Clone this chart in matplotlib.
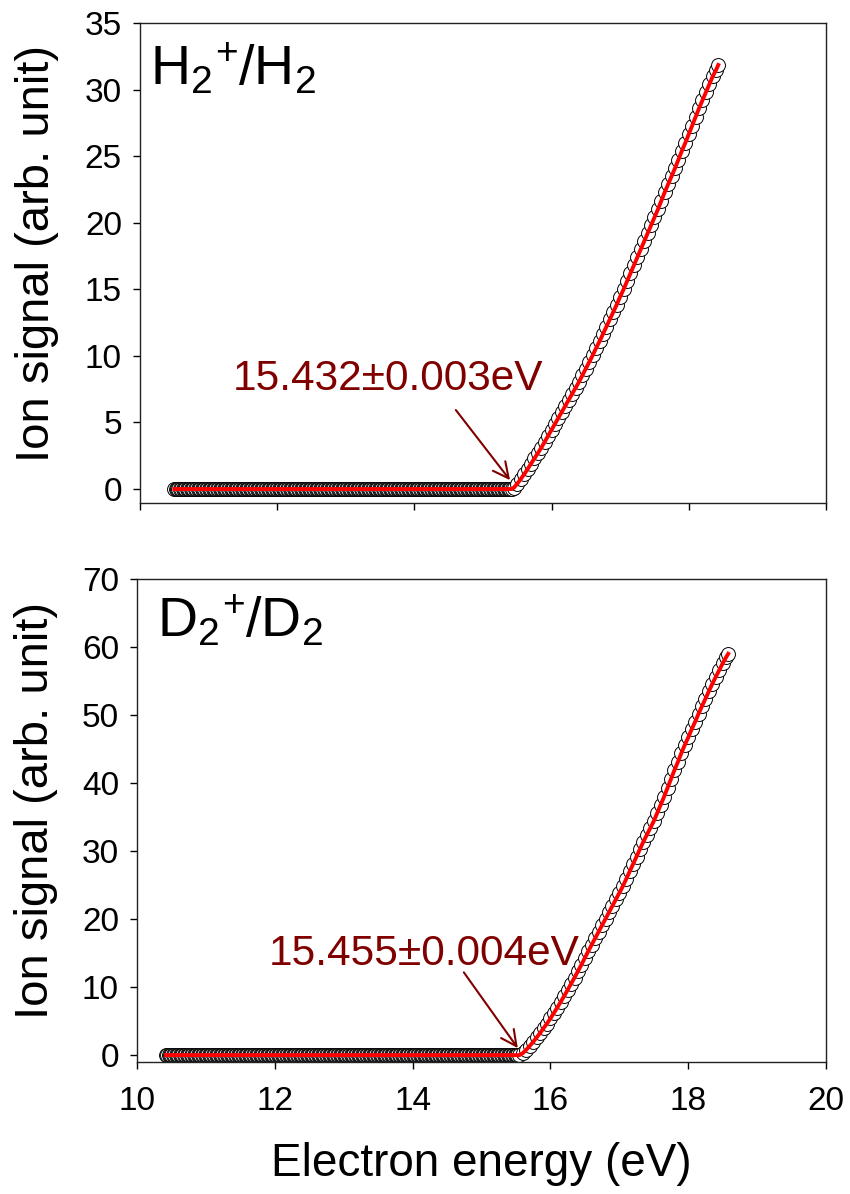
import numpy as np
import matplotlib
matplotlib.use("Agg")
import matplotlib.pyplot as plt

plt.rcParams['font.family'] = ['Liberation Sans', 'DejaVu Sans']
plt.rcParams['mathtext.fontset'] = 'custom'
plt.rcParams['mathtext.rm'] = 'Liberation Sans'

# H2 scan: flat baseline below threshold, then the rising part
h2_flat_start, h2_flat_stop, h2_step = 10.50, 15.44, 0.02
h2_rise_e = [15.45, 15.50, 15.55, 15.60, 15.65, 15.70, 15.75, 15.80, 15.85, 15.90,
             15.95, 16.00, 16.05, 16.10, 16.15, 16.20, 16.25, 16.30, 16.35, 16.40,
             16.45, 16.50, 16.55, 16.60, 16.65, 16.70, 16.75, 16.80, 16.85, 16.90,
             16.95, 17.00, 17.05, 17.10, 17.15, 17.20, 17.25, 17.30, 17.35, 17.40,
             17.45, 17.50, 17.55, 17.60, 17.65, 17.70, 17.75, 17.80, 17.85, 17.90,
             17.95, 18.00, 18.05, 18.10, 18.15, 18.20, 18.25, 18.30, 18.35, 18.40,
             18.43]
h2_rise_s = [0.1, 0.4, 0.75, 1.1, 1.5, 1.9, 2.3, 2.7, 3.1, 3.55,
             4.0, 4.45, 4.9, 5.35, 5.8, 6.25, 6.7, 7.15, 7.6, 8.05,
             8.55, 9.05, 9.55, 10.05, 10.6, 11.1, 11.65, 12.2, 12.75, 13.3,
             13.85, 14.45, 15.0, 15.6, 16.2, 16.8, 17.4, 18.0, 18.6, 19.2,
             19.8, 20.4, 21.0, 21.65, 22.3, 22.9, 23.5, 24.1, 24.75, 25.4,
             26.0, 26.65, 27.3, 27.95, 28.6, 29.2, 29.8, 30.4, 31.0, 31.5,
             31.85]

# D2 scan
d2_flat_start, d2_flat_stop, d2_step = 10.42, 15.54, 0.02
d2_rise_e = [15.55, 15.60, 15.65, 15.70, 15.75, 15.80, 15.85, 15.90, 15.95, 16.00,
             16.05, 16.10, 16.15, 16.20, 16.25, 16.30, 16.35, 16.40, 16.45, 16.50,
             16.55, 16.60, 16.65, 16.70, 16.75, 16.80, 16.85, 16.90, 16.95, 17.00,
             17.05, 17.10, 17.15, 17.20, 17.25, 17.30, 17.35, 17.40, 17.45, 17.50,
             17.55, 17.60, 17.65, 17.70, 17.75, 17.80, 17.85, 17.90, 17.95, 18.00,
             18.05, 18.10, 18.15, 18.20, 18.25, 18.30, 18.35, 18.40, 18.45, 18.50,
             18.55, 18.58]
d2_rise_s = [0.0, 0.3, 0.8, 1.35, 1.95, 2.6, 3.25, 3.95, 4.65, 5.4,
             6.2, 7.0, 7.85, 8.7, 9.6, 10.5, 11.4, 12.35, 13.3, 14.3,
             15.3, 16.25, 17.2, 18.15, 19.1, 20.05, 21.0, 21.95, 22.9, 23.85,
             24.8, 25.9, 27.0, 28.1, 29.2, 30.3, 31.4, 32.4, 33.4, 34.4,
             35.6, 36.8, 38.0, 39.3, 40.6, 41.9, 43.1, 44.4, 45.6, 46.7,
             47.9, 49.0, 50.2, 51.3, 52.4, 53.5, 54.6, 55.6, 56.6, 57.6,
             58.5, 59.0]

h2_label = r'$\mathregular{H_2{}^{\!+}\!/H_2}$'
d2_label = r'$\mathregular{D_2{}^{\!+}\!/D_2}$'
h2_text = '15.432\u00b10.003eV'
d2_text = '15.455\u00b10.004eV'

dark_red = '#800000'


def build(flat_start, flat_stop, step, rise_e, rise_s):
    e_flat = np.arange(flat_start, flat_stop, step)
    e = np.concatenate([e_flat, rise_e])
    s = np.concatenate([np.zeros(len(e_flat)), rise_s])
    return e, s


def panel(ax, e, s, ymax, ystep, ybottom):
    ax.plot(e, s, 'o', ms=10, mfc='white', mec='black', mew=0.7, zorder=2)
    ax.plot(e, s, '-', color='#ff0000', lw=2.8, zorder=3)
    ax.set_xlim(10, 20)
    ax.set_ylim(ybottom, ymax)
    ax.set_xticks(np.arange(10, 21, 2))
    ax.set_yticks(np.arange(0, ymax + 1, ystep))
    ax.tick_params(direction='out', length=5, width=1, labelsize=24, pad=8)
    ax.tick_params(axis='x', pad=12)
    for sp in ax.spines.values():
        sp.set_linewidth(1)
        sp.set_color('#222222')
    ax.set_ylabel('Ion signal (arb. unit)', fontsize=34)


fig = plt.figure(figsize=(8.5, 11.94), dpi=100)
ax1 = fig.add_axes([0.1647, 0.5787, 0.807, 0.402])
ax2 = fig.add_axes([0.1612, 0.1106, 0.8106, 0.4045])

e1, s1 = build(h2_flat_start, h2_flat_stop, h2_step, h2_rise_e, h2_rise_s)
e2, s2 = build(d2_flat_start, d2_flat_stop, d2_step, d2_rise_e, d2_rise_s)

panel(ax1, e1, s1, 35, 5, -1.05)
panel(ax2, e2, s2, 70, 10, -1.0)
ax1.set_xticklabels([])
ax1.yaxis.set_label_coords(-0.118, 0.52)
ax2.yaxis.set_label_coords(-0.114, 0.52)

ax1.text(0.015, 0.871, h2_label, transform=ax1.transAxes, fontsize=40)
ax2.text(0.029, 0.88, d2_label, transform=ax2.transAxes, fontsize=40)

ax1.text(13.61, 7.44, h2_text, color=dark_red, fontsize=30.5, ha='center', va='baseline')
ax1.annotate('', xy=(15.42, 0.5), xytext=(14.58, 6.1),
             arrowprops=dict(arrowstyle='->', color=dark_red, lw=1.5,
                             mutation_scale=28))
ax2.text(14.17, 13.2, d2_text, color=dark_red, fontsize=30.5, ha='center', va='baseline')
ax2.annotate('', xy=(15.55, 0.7), xytext=(14.72, 12.5),
             arrowprops=dict(arrowstyle='->', color=dark_red, lw=1.5,
                             mutation_scale=28))

ax2.set_xlabel('Electron energy (eV)', fontsize=33)
ax2.xaxis.set_label_coords(0.5, -0.165)

fig.savefig('out.png', dpi=100)
